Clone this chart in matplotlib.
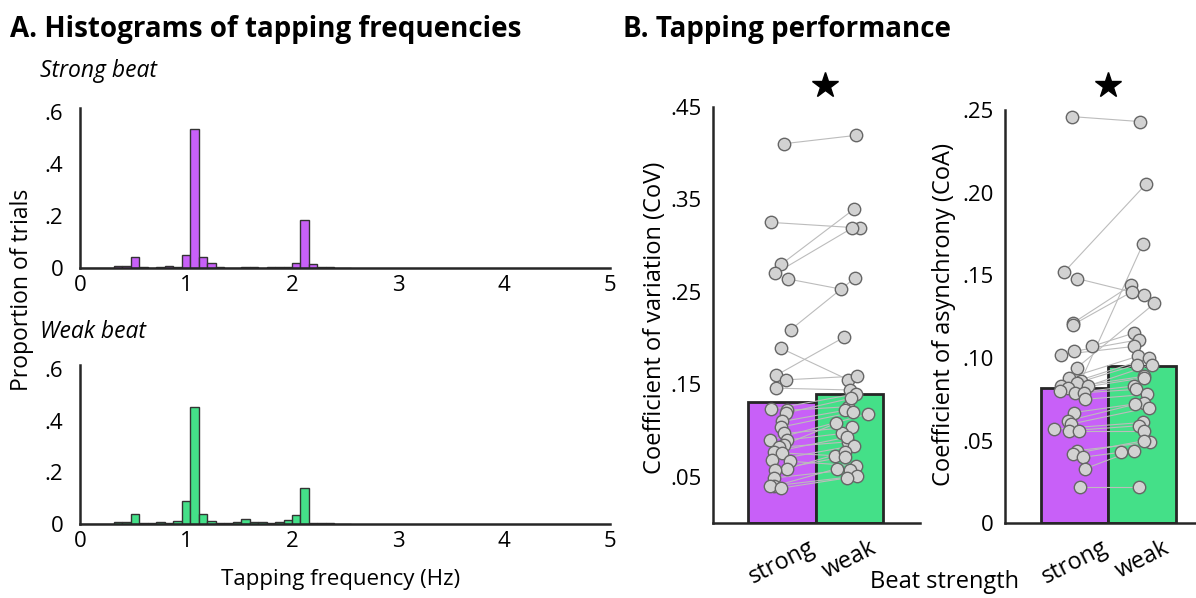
import matplotlib
matplotlib.use("Agg")
import matplotlib.pyplot as plt
import numpy as np

plt.rcParams['font.family'] = ['Open Sans', 'DejaVu Sans']

# histogram data (bin width 0.08 Hz, bins starting at 0)
bin_width = 0.08
strong_hist = [0, 0, 0, 0.001, 0.006, 0.006, 0.041, 0.003, 0.001, 0.002,
               0.006, 0.004, 0.051, 0.535, 0.044, 0.018, 0.003, 0.001, 0.001, 0.003,
               0.003, 0.001, 0.004, 0.005, 0.005, 0.019, 0.184, 0.017, 0.003, 0.002,
               0.001, 0.001]
weak_hist = [0, 0, 0, 0.001, 0.006, 0.008, 0.037, 0.002, 0.004, 0.007,
             0.004, 0.010, 0.089, 0.453, 0.038, 0.011, 0.004, 0.004, 0.007, 0.019,
             0.008, 0.008, 0.003, 0.007, 0.016, 0.034, 0.140, 0.003, 0.003, 0.002,
             0.001, 0.001]
hist_yticks = [0, 0.2, 0.4, 0.6]
hist_yticklabels = ['0', '.2', '.4', '.6']
hist_xticks = [0, 1, 2, 3, 4, 5]

# tapping performance (paired per participant) + jitter
categories = ['strong', 'weak']
cov_strong = [0.410, 0.325, 0.280, 0.270, 0.264, 0.209, 0.189, 0.160, 0.155, 0.146,
              0.123, 0.122, 0.119, 0.110, 0.104, 0.097, 0.090, 0.090, 0.085, 0.082,
              0.077, 0.076, 0.068, 0.067, 0.059, 0.058, 0.049, 0.040, 0.040, 0.038]
cov_weak = [0.419, 0.319, 0.339, 0.319, 0.253, 0.265, 0.155, 0.201, 0.159, 0.144,
            0.140, 0.126, 0.135, 0.122, 0.120, 0.104, 0.118, 0.097, 0.108, 0.088,
            0.093, 0.073, 0.084, 0.062, 0.077, 0.072, 0.058, 0.059, 0.051, 0.049]
cov_strong_jit = [0.025, -0.16, -0.01, -0.10, 0.08, 0.125, -0.015, -0.085, 0.06, -0.085,
                  -0.16, 0.075, 0.05, 0.0, -0.01, 0.035, -0.175, 0.075, 0.035, -0.05,
                  -0.125, 0.0, -0.15, 0.115, 0.075, -0.10, -0.115, -0.125, -0.175, -0.015]
cov_weak_jit = [0.09, 0.15, 0.06, 0.04, -0.13, 0.08, -0.02, -0.08, 0.11, 0.01,
                0.10, -0.02, 0.02, -0.07, 0.05, 0.04, 0.27, -0.11, -0.20, -0.02,
                -0.04, -0.21, 0.07, 0.10, -0.07, -0.07, 0.01, -0.19, 0.11, -0.04]
cov_means = [0.1305, 0.140]
cov_yticks = [0.05, 0.15, 0.25, 0.35, 0.45]
cov_yticklabels = ['.05', '.15', '.25', '.35', '.45']

coa_strong = [0.246, 0.152, 0.148, 0.121, 0.120, 0.107, 0.104, 0.102, 0.094, 0.088,
              0.086, 0.085, 0.083, 0.083, 0.082, 0.080, 0.079, 0.079, 0.075, 0.067,
              0.062, 0.060, 0.057, 0.056, 0.056, 0.044, 0.042, 0.040, 0.033, 0.022]
coa_weak = [0.243, 0.205, 0.138, 0.144, 0.140, 0.115, 0.111, 0.107, 0.133, 0.101,
            0.169, 0.096, 0.100, 0.096, 0.089, 0.088, 0.083, 0.081, 0.078, 0.073,
            0.072, 0.070, 0.061, 0.059, 0.056, 0.049, 0.050, 0.043, 0.044, 0.022]
coa_strong_jit = [-0.04, -0.155, 0.04, -0.03, -0.03, 0.25, -0.01, -0.20, 0.03, -0.08,
                  0.09, 0.04, -0.20, 0.19, -0.105, -0.215, 0.0, 0.14, 0.15, -0.01,
                  -0.105, -0.06, -0.30, -0.08, 0.07, 0.04, -0.03, 0.13, 0.15, 0.08]
coa_weak_jit = [-0.03, 0.05, 0.03, -0.165, -0.155, -0.13, -0.055, -0.12, 0.18, -0.07,
                0.01, -0.08, 0.10, 0.14, 0.03, 0.02, -0.13, -0.09, 0.07, 0.03,
                -0.105, 0.105, 0.01, -0.055, 0.03, 0.115, 0.03, -0.31, -0.13, -0.055]
coa_means = [0.082, 0.095]
coa_yticks = [0, 0.05, 0.10, 0.15, 0.20, 0.25]
coa_yticklabels = ['0', '.05', '.10', '.15', '.20', '.25']

purple = '#c860f8'
green = '#44e088'
edge = '#262626'
W, H = 1196, 598

fig = plt.figure(figsize=(W / 100, H / 100), dpi=100)


def px_axes(left, top, right, bottom):
    return fig.add_axes([left / W, 1 - bottom / H, (right - left) / W, (bottom - top) / H])


def style(ax):
    for s in ['top', 'right']:
        ax.spines[s].set_visible(False)
    for s in ['left', 'bottom']:
        ax.spines[s].set_linewidth(1.8)
        ax.spines[s].set_color(edge)
    ax.tick_params(length=0, labelsize=16)


#HISTOGRAMS

ax_hs = px_axes(80, 108, 610, 268)
ax_hw = px_axes(80, 365, 610, 524)
for ax, vals, col in [(ax_hs, strong_hist, purple), (ax_hw, weak_hist, green)]:
    lefts = np.arange(len(vals)) * bin_width
    ax.bar(lefts, vals, width=bin_width, align='edge', color=col, edgecolor='#333333', linewidth=1)
    ax.set_xlim(0, 5)
    ax.set_ylim(0, 0.615)
    ax.set_yticks(hist_yticks)
    ax.set_yticklabels(hist_yticklabels)
    ax.set_xticks(hist_xticks)
    style(ax)
    ax.tick_params(axis='y', pad=12)
    ax.tick_params(axis='x', pad=5)

fig.text(40 / W, 1 - 77 / H, 'Strong beat', fontsize=16.5, style='italic', va='baseline')
fig.text(40 / W, 1 - 338 / H, 'Weak beat', fontsize=16.5, style='italic', va='baseline')
fig.text(22 / W, 1 - 290 / H, 'Proportion of trials', fontsize=16.5, rotation=90, ha='center', va='center')
fig.text(341 / W, 1 - 580 / H, 'Tapping frequency (Hz)', fontsize=16, ha='center', va='center')

#BAR CHARTS


def paired(ax, strong, weak, sj, wj, means, yticks, yticklabels, ymax, star_x, star_y):
    ax.bar([0, 1], means, width=1, color=[purple, green], edgecolor=edge, linewidth=2, zorder=1)
    xs = np.array(sj)
    xw = 1 + np.array(wj)
    for a, b, c, d in zip(xs, strong, xw, weak):
        ax.plot([a, c], [b, d], color='#bcbcbc', lw=0.8, zorder=2)
    ax.scatter(xs, strong, s=80, facecolor='#d2d2d2', edgecolor='#666666', linewidth=1, zorder=3)
    ax.scatter(xw, weak, s=80, facecolor='#d2d2d2', edgecolor='#666666', linewidth=1, zorder=3)
    ax.plot(star_x, star_y, marker='*', ms=19, color='black', clip_on=False)
    ax.set_ylim(0, ymax)
    ax.set_xlim(-1.03, 2.045)
    ax.set_yticks(yticks)
    ax.set_yticklabels(yticklabels)
    ax.set_xticks([0, 1])
    ax.set_xticklabels(categories, rotation=27, ha='center')
    style(ax)
    ax.tick_params(axis='y', pad=8)
    ax.tick_params(axis='x', pad=9, labelsize=17)


ax_cov = px_axes(712.7, 106.7, 920, 523.3)
paired(ax_cov, cov_strong, cov_weak, cov_strong_jit, cov_weak_jit, cov_means,
       cov_yticks, cov_yticklabels, 0.45, 0.64, 0.473)
ax_coa = px_axes(1005, 110, 1213, 523.3)
paired(ax_coa, coa_strong, coa_weak, coa_strong_jit, coa_weak_jit, coa_means,
       coa_yticks, coa_yticklabels, 0.25, 0.5, 0.265)

fig.text(655 / W, 1 - 318 / H, 'Coefficient of variation (CoV)', fontsize=17, rotation=90, ha='center', va='center')
fig.text(944 / W, 1 - 315 / H, 'Coefficient of asynchrony (CoA)', fontsize=17, rotation=90, ha='center', va='center')
fig.text(945 / W, 1 - 582 / H, 'Beat strength', fontsize=17, ha='center', va='center')

fig.text(10 / W, 1 - 37 / H, 'A. Histograms of tapping frequencies', fontsize=20, fontweight='bold', va='baseline')
fig.text(623 / W, 1 - 37 / H, 'B. Tapping performance', fontsize=20, fontweight='bold', va='baseline')

fig.savefig('out.png', dpi=100)
